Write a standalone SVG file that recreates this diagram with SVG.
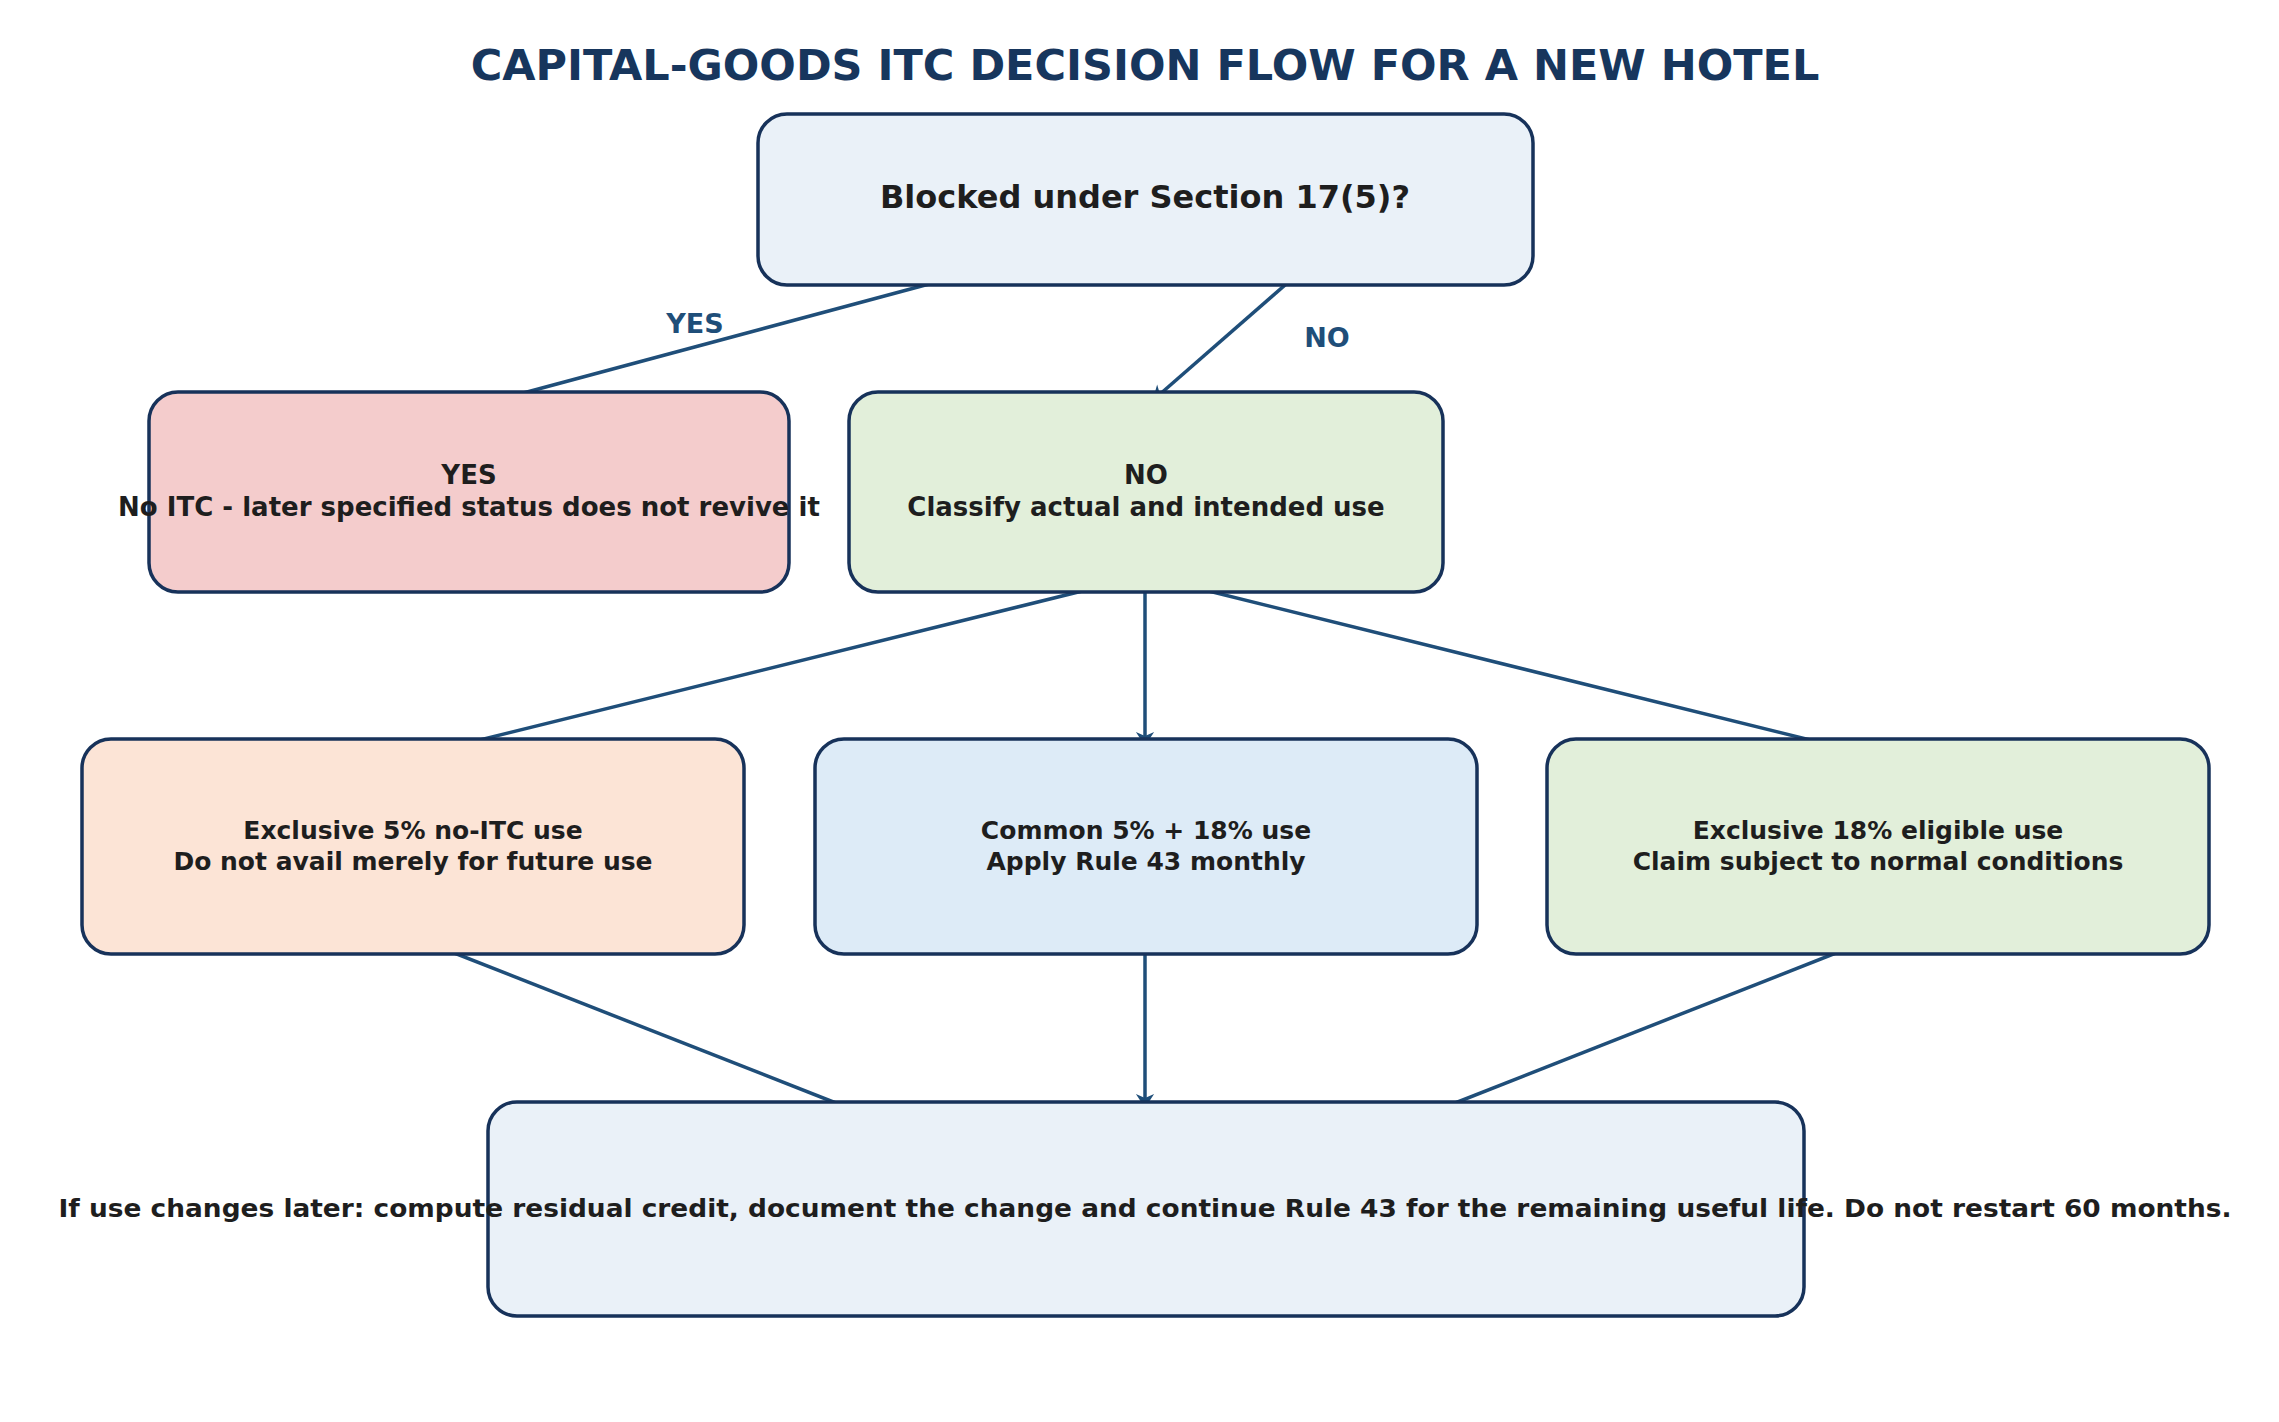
<svg xmlns="http://www.w3.org/2000/svg" width="2279" height="1422" viewBox="0 0 2279 1422">
<style>
.b{stroke:#17325a;stroke-width:3.5}
.t{font-family:"DejaVu Sans",sans-serif;font-weight:bold;fill:#1e1e1e;text-anchor:middle}
.c{stroke:#1f4e79;stroke-width:3.5;fill:none;marker-end:url(#a)}
.l{font-family:"DejaVu Sans",sans-serif;font-weight:bold;fill:#1f4e79;font-size:27px;text-anchor:middle}
</style>
<defs><marker id="a" viewBox="0 0 10 10" refX="9" refY="5" markerWidth="7" markerHeight="7" orient="auto" markerUnits="userSpaceOnUse" style="overflow:visible"><path d="M-14,-8 L6,5 L-14,18 L-8,5 Z" fill="#1f4e79" transform="scale(1)"/></marker></defs>
<rect width="2279" height="1422" fill="#fff"/>
<text x="1145" y="80" font-family="DejaVu Sans,sans-serif" font-weight="bold" font-size="43" fill="#17365d" text-anchor="middle">CAPITAL-GOODS ITC DECISION FLOW FOR A NEW HOTEL</text>
<g id="connectors">
<path class="c" d="M985,269 L475,406"/>
<path class="c" d="M1300,272 L1151,402"/>
<path class="c" d="M1143,576 L419,755"/>
<path class="c" d="M1145,576 L1145,748"/>
<path class="c" d="M1148,576 L1871,755"/>
<path class="c" d="M416,938 L869,1116"/>
<path class="c" d="M1145,942 L1145,1110"/>
<path class="c" d="M1874,938 L1422,1116"/>
<text class="l" x="695" y="333">YES</text>
<text class="l" x="1327" y="347">NO</text>
</g>
<g id="n1"><rect class="b" x="758" y="114" width="775" height="171" rx="29" fill="#eaf1f8"/><text class="t" x="1145" y="208" font-size="32">Blocked under Section 17(5)?</text></g>
<g id="n2"><rect class="b" x="149" y="392" width="640" height="200" rx="29" fill="#f4cccc"/><text class="t" x="469" y="484" font-size="26">YES</text><text class="t" x="469" y="516" font-size="26">No ITC - later specified status does not revive it</text></g>
<g id="n3"><rect class="b" x="849" y="392" width="594" height="200" rx="29" fill="#e2efda"/><text class="t" x="1146" y="484" font-size="26">NO</text><text class="t" x="1146" y="516" font-size="26">Classify actual and intended use</text></g>
<g id="n4"><rect class="b" x="82" y="739" width="662" height="215" rx="29" fill="#fce4d6"/><text class="t" x="413" y="839" font-size="25">Exclusive 5% no-ITC use</text><text class="t" x="413" y="870" font-size="25">Do not avail merely for future use</text></g>
<g id="n5"><rect class="b" x="815" y="739" width="662" height="215" rx="29" fill="#ddebf7"/><text class="t" x="1146" y="839" font-size="25">Common 5% + 18% use</text><text class="t" x="1146" y="870" font-size="25">Apply Rule 43 monthly</text></g>
<g id="n6"><rect class="b" x="1547" y="739" width="662" height="215" rx="29" fill="#e2efda"/><text class="t" x="1878" y="839" font-size="25">Exclusive 18% eligible use</text><text class="t" x="1878" y="870" font-size="25">Claim subject to normal conditions</text></g>
<g id="n7"><rect class="b" x="488" y="1102" width="1316" height="214" rx="29" fill="#eaf1f8"/><text class="t" x="1145" y="1217" font-size="25" textLength="2173" lengthAdjust="spacingAndGlyphs">If use changes later: compute residual credit, document the change and continue Rule 43 for the remaining useful life. Do not restart 60 months.</text></g>
</svg>
